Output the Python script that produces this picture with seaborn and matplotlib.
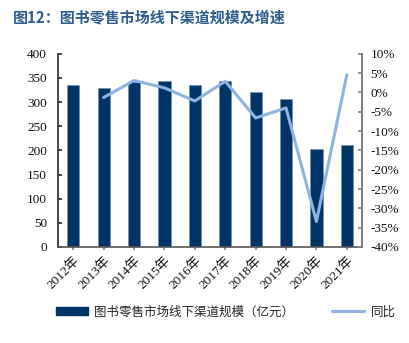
import numpy as np
import pandas as pd
import matplotlib
matplotlib.use("Agg")
import matplotlib.pyplot as plt
import seaborn as sns
from matplotlib.lines import Line2D
from matplotlib.patches import Patch

# Offline book retail channel: scale (100m yuan) and year-on-year growth
years = ["2012年", "2013年", "2014年", "2015年", "2016年",
         "2017年", "2018年", "2019年", "2020年", "2021年"]
scale = [336, 330, 341, 343, 336, 343, 320, 307, 202, 212]
growth = [np.nan, -1.3, 3.1, 1.2, -2.2, 2.9, -6.6, -4.0, -33.4, 4.6]

left_ticks = [0, 50, 100, 150, 200, 250, 300, 350, 400]
right_ticks = [-40, -35, -30, -25, -20, -15, -10, -5, 0, 5, 10]

bar_label = "图书零售市场线下渠道规模（亿元）"
line_label = "同比"
title = "图12：图书零售市场线下渠道规模及增速"

sns.set_theme(style="white")
serif = ["Liberation Serif", "Noto Sans CJK SC", "DejaVu Sans"]
cjk = ["Noto Sans CJK SC", "DejaVu Sans"]
plt.rcParams["font.family"] = serif

bar_color = "#003366"
line_color = "#8DB4E2"

df = pd.DataFrame({"year": years, "scale": scale, "growth": growth})

fig = plt.figure(figsize=(4.10, 3.43), dpi=100)
ax = fig.add_axes([0.1415, 0.28, 0.7415, 0.563])

sns.barplot(data=df, x="year", y="scale", color=bar_color, width=0.4,
            saturation=1, edgecolor="#6F8FB5", linewidth=0.4, ax=ax)
ax.set_ylim(0, 400)
ax.set_xlim(-0.5, len(years) - 0.5)
ax.set_xlabel("")
ax.set_ylabel("")

ax2 = ax.twinx()
line_df = pd.DataFrame({"pos": np.arange(len(years)), "growth": growth}).dropna()
sns.lineplot(data=line_df, x="pos", y="growth", color=line_color,
             linewidth=2.2, ax=ax2)
ax2.set_ylim(-40, 10)
ax2.set_xlim(-0.5, len(years) - 0.5)
ax2.set_xlabel("")
ax2.set_ylabel("")

tick_font = dict(family=serif, size=9.5, color="#111111")
ax.set_yticks(left_ticks)
ax.set_yticklabels([str(t) for t in left_ticks], **tick_font)
ax2.set_yticks(right_ticks)
ax2.set_yticklabels([f"{t}%" for t in right_ticks], **tick_font)
ax.set_xticks(range(len(years)))
ax.set_xticklabels(years, rotation=45, ha="right", rotation_mode="anchor",
                   **tick_font)

for a in (ax, ax2):
    a.spines["top"].set_visible(False)
ax.spines["left"].set_color("#333333")
ax.spines["bottom"].set_color("#555555")
ax.spines["bottom"].set_linewidth(1.2)
ax2.spines["left"].set_visible(False)
ax2.spines["bottom"].set_visible(False)
ax2.spines["right"].set_color("#888888")

ax.tick_params(axis="y", direction="in", length=3, color="#333333",
               pad=8, left=True)
ax.tick_params(axis="x", direction="out", length=2, color="#888888",
               pad=3, bottom=True)
ax2.tick_params(axis="y", direction="in", length=3, color="#888888",
                pad=6, right=True)

fig.text(0.032, 0.948, title, fontsize=10.8, fontweight="bold",
         color="#2F5C8F", family=cjk, va="center", ha="left")

handles = [Patch(facecolor=bar_color, edgecolor=bar_color),
           Line2D([0], [0], color=line_color, linewidth=2.2)]
fig.legend(handles, [bar_label, line_label], loc="center",
           bbox_to_anchor=(0.55, 0.09), ncol=2, frameon=False,
           prop={"family": cjk, "size": 9}, handlelength=2.6,
           handleheight=0.6, columnspacing=3.0, handletextpad=0.5)

fig.savefig("out.png", dpi=100)
